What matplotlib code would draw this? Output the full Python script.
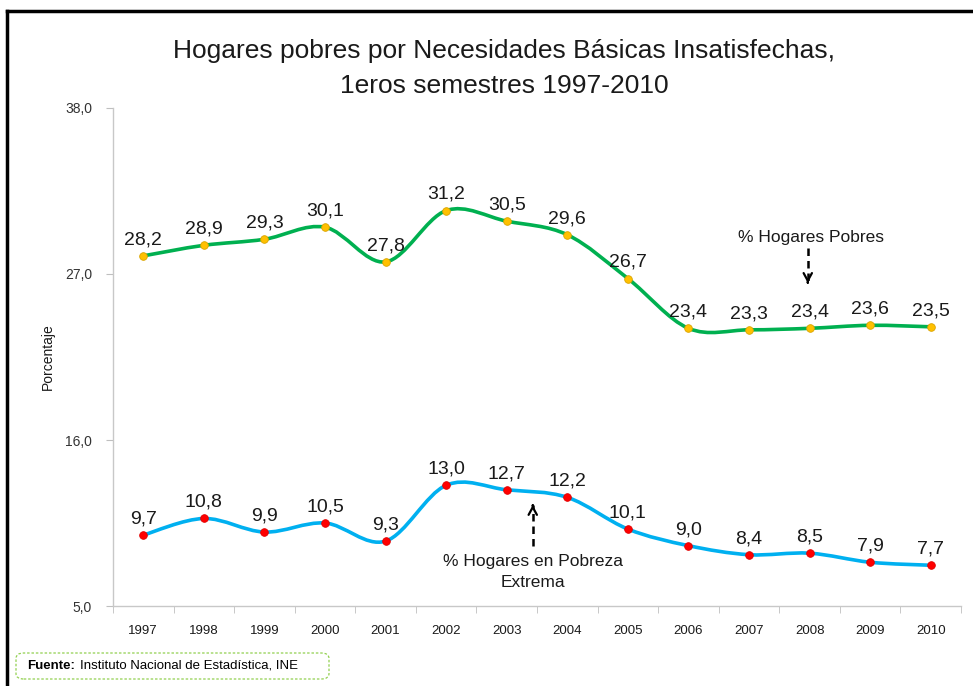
import numpy as np
import matplotlib
matplotlib.use('Agg')
import matplotlib.pyplot as plt
from matplotlib.path import Path
from matplotlib.patches import PathPatch, FancyBboxPatch
from matplotlib.lines import Line2D

plt.rcParams['font.family'] = ['Liberation Sans', 'DejaVu Sans']

# Data
years = ['1997', '1998', '1999', '2000', '2001', '2002', '2003',
         '2004', '2005', '2006', '2007', '2008', '2009', '2010']
pobres = [28.2, 28.9, 29.3, 30.1, 27.8, 31.2, 30.5, 29.6, 26.7, 23.4, 23.3, 23.4, 23.6, 23.5]
extrema = [9.7, 10.8, 9.9, 10.5, 9.3, 13.0, 12.7, 12.2, 10.1, 9.0, 8.4, 8.5, 7.9, 7.7]
y_ticks = [5.0, 16.0, 27.0, 38.0]


def smooth_path(xs, ys):
    # Excel-like smoothed line: cubic Bezier with Catmull-Rom tangents
    pts = np.column_stack([xs, ys]).astype(float)
    verts = [pts[0]]
    codes = [Path.MOVETO]
    n = len(pts)
    for i in range(n - 1):
        p0 = pts[max(i - 1, 0)]
        p1 = pts[i]
        p2 = pts[i + 1]
        p3 = pts[min(i + 2, n - 1)]
        c1 = p1 + (p2 - p0) / 6.0
        c2 = p2 - (p3 - p1) / 6.0
        verts += [c1, c2, p2]
        codes += [Path.CURVE4] * 3
    return Path(verts, codes)


def dashed_arrow(ax, start, end):
    # dashed shaft + solid open head
    ax.plot([start[0], end[0]], [start[1], end[1]], color='black', lw=1.8,
            linestyle=(0, (3, 2)), solid_capstyle='butt', zorder=5)
    d = 0.05 if end[1] > start[1] else -0.05
    ax.annotate('', xy=end, xytext=(end[0], end[1] - d),
                arrowprops=dict(arrowstyle='->,head_length=0.55,head_width=0.3', lw=1.6,
                                color='black', shrinkA=0, shrinkB=0), zorder=5)


fig = plt.figure(figsize=(9.73, 6.86), dpi=100)
ax = fig.add_axes([0.1161, 0.1166, 0.8716, 0.726])

x = np.arange(len(years))

ax.add_patch(PathPatch(smooth_path(x, pobres), fill=False, edgecolor='#00B050',
                       lw=2.6, capstyle='round', zorder=3))
ax.add_patch(PathPatch(smooth_path(x, extrema), fill=False, edgecolor='#00B0F0',
                       lw=2.6, capstyle='round', zorder=3))
ax.plot(x, pobres, 'o', color='#FFC000', markersize=5.5, markeredgecolor='#D9A400',
        markeredgewidth=0.6, zorder=4)
ax.plot(x, extrema, 'o', color='#FF0000', markersize=5.5, markeredgecolor='#E00000',
        markeredgewidth=0.6, zorder=4)

for xi, v in zip(x, pobres):
    ax.annotate(f'{v:.1f}'.replace('.', ','), (xi, v), xytext=(0, 5.5),
                textcoords='offset points', ha='center', va='bottom',
                fontsize=14, color='#1a1a1a')
for xi, v in zip(x, extrema):
    ax.annotate(f'{v:.1f}'.replace('.', ','), (xi, v), xytext=(0, 5.5),
                textcoords='offset points', ha='center', va='bottom',
                fontsize=14, color='#1a1a1a')

ax.set_xlim(-0.5, len(years) - 0.5)
ax.set_ylim(5, 38)
ax.set_yticks(y_ticks)
ax.set_yticklabels([f'{t:.1f}'.replace('.', ',') for t in y_ticks], fontsize=10, color='#333333')
ax.set_xticks(x)
ax.set_xticklabels(years, fontsize=9.5, color='#1a1a1a')
ax.set_xticks(np.arange(-0.5, len(years)), minor=True)
ax.tick_params(axis='x', which='major', length=0, pad=14)
ax.tick_params(axis='x', which='minor', length=5, color='#BFBFBF')
ax.tick_params(axis='y', length=5, color='#BFBFBF', pad=10)
for s in ['top', 'right']:
    ax.spines[s].set_visible(False)
for s in ['left', 'bottom']:
    ax.spines[s].set_color('#C8C8C8')
    ax.spines[s].set_linewidth(1.0)
ax.set_ylabel('Porcentaje', fontsize=10, color='#1a1a1a', labelpad=7)

fig.text(0.518, 0.9, 'Hogares pobres por Necesidades Básicas Insatisfechas,\n1eros semestres 1997-2010',
         ha='center', va='center', fontsize=19, linespacing=1.55, color='#1a1a1a')

# Annotations
ax.text(11.03, 29.4, '% Hogares Pobres', ha='center', va='center', fontsize=12.5, color='#1a1a1a')
dashed_arrow(ax, (10.97, 28.7), (10.97, 26.4))
ax.text(6.43, 7.25, '% Hogares en Pobreza\nExtrema', ha='center', va='center',
        fontsize=12.5, linespacing=1.45, color='#1a1a1a')
dashed_arrow(ax, (6.43, 9.0), (6.43, 11.7))

# Source box
box = FancyBboxPatch((16 / 973, 1 - 679 / 686), 313 / 973, 26 / 686,
                     boxstyle='round,pad=0,rounding_size=0.008', transform=fig.transFigure,
                     facecolor='white', edgecolor='#92D050', lw=0.9, linestyle=(0, (2, 1.5)))
fig.patches.append(box)
fig.text(27 / 973, 1 - 666 / 686, 'Fuente:', fontsize=9.5, fontweight='bold',
         va='center', ha='left')
fig.text(80 / 973, 1 - 666 / 686, 'Instituto Nacional de Estadística, INE', fontsize=9.5,
         va='center', ha='left')

# Frame lines of the original slide
fig.add_artist(Line2D([7 / 973, 1.0], [1 - 11 / 686, 1 - 11 / 686], transform=fig.transFigure,
                      color='black', lw=2.5))
fig.add_artist(Line2D([7 / 973, 7 / 973], [0, 1 - 11 / 686], transform=fig.transFigure,
                      color='black', lw=2.5))

fig.savefig('out.png', dpi=100)
